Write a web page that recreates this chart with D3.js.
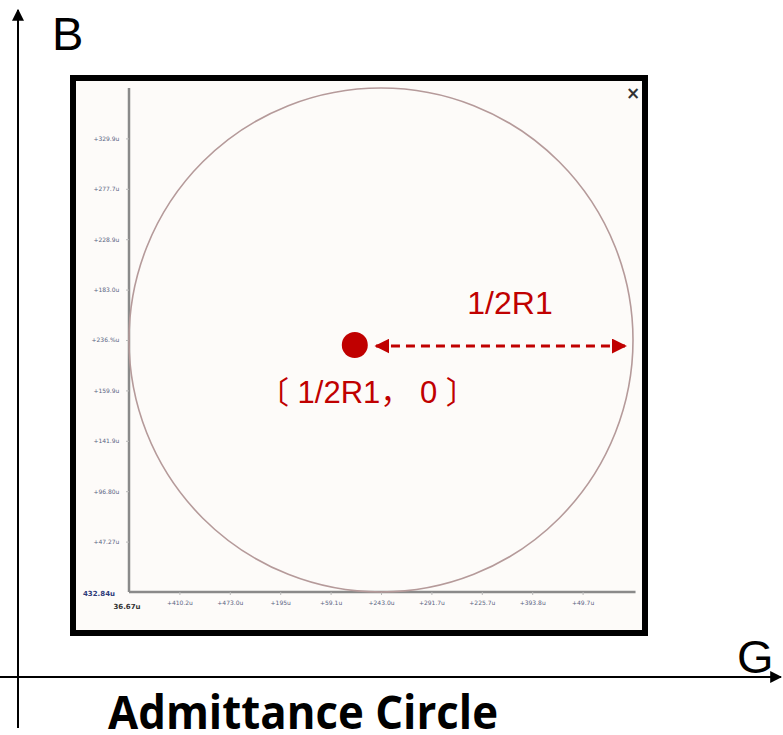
<!DOCTYPE html>
<html>
<head>
<meta charset="utf-8">
<script src="https://cdn.jsdelivr.net/npm/d3@7"></script>
<style>
  body { margin: 0; background: #fff; }
  svg { display: block; }
</style>
</head>
<body>
<svg id="chart" width="783" height="735"></svg>
<script>
// tick positions (in radius units) and their (barely legible) labels
const gTicks = [1, 2, 3, 4, 5, 6, 7, 8, 9];
const gLabels = ['+410.2u', '+473.0u', '+195u', '+59.1u', '+243.0u', '+291.7u', '+225.7u', '+393.8u', '+49.7u'];
const bTicks = [4, 3, 2, 1, 0, -1, -2, -3, -4];
const bLabels = ['+329.9u', '+277.7u', '+228.9u', '+183.0u', '+236.%u', '+159.9u', '+141.9u', '+96.80u', '+47.27u'];
const cornerLabels = ['432.84u', '36.67u'];

// the admittance circle: centre (1/2R1, 0), radius 1/2R1
const circleG = 5;
const circleB = 0;
const circleR = 5;

// annotation
const dotPoint = [4.48, -0.1];
const arrowFrom = [4.9, -0.12];
const arrowTo = [9.85, -0.12];
const radiusLabel = '1/2R1';
const centreLabel = '〔 1/2R1， 0 〕';
const title = 'Admittance Circle';

const red = '#c00000';
const svg = d3.select('#chart');

const defs = svg.append('defs');
defs.append('marker')
    .attr('id', 'arrow-black')
    .attr('viewBox', '0 0 10 10')
    .attr('refX', 9).attr('refY', 5)
    .attr('markerWidth', 6).attr('markerHeight', 6)
    .attr('markerUnits', 'strokeWidth')
    .attr('orient', 'auto')
  .append('path').attr('d', 'M0,0 L10,5 L0,10 z').attr('fill', '#000');
defs.append('marker')
    .attr('id', 'arrow-red')
    .attr('viewBox', '0 0 10 10')
    .attr('refX', 9).attr('refY', 5)
    .attr('markerWidth', 5).attr('markerHeight', 5)
    .attr('markerUnits', 'strokeWidth')
    .attr('orient', 'auto-start-reverse')
  .append('path').attr('d', 'M0,0 L10,5 L0,10 z').attr('fill', red);

// outer B / G axes
svg.append('line')
    .attr('x1', 18).attr('y1', 728).attr('x2', 18).attr('y2', 10)
    .attr('stroke', '#000').attr('stroke-width', 2)
    .attr('marker-end', 'url(#arrow-black)');
svg.append('line')
    .attr('x1', 0).attr('y1', 677).attr('x2', 781).attr('y2', 677)
    .attr('stroke', '#000').attr('stroke-width', 2)
    .attr('marker-end', 'url(#arrow-black)');
svg.append('text')
    .attr('x', 52).attr('y', 50)
    .attr('font-family', 'Liberation Sans, Arial, sans-serif')
    .attr('font-size', 47)
    .text('B');
svg.append('text')
    .attr('x', 737).attr('y', 673)
    .attr('font-family', 'Liberation Sans, Arial, sans-serif')
    .attr('font-size', 47)
    .text('G');

// screenshot frame
svg.append('rect')
    .attr('x', 73).attr('y', 78).attr('width', 572).attr('height', 555)
    .attr('fill', '#fdfbf9')
    .attr('stroke', '#000').attr('stroke-width', 6);
svg.append('text')
    .attr('x', 633).attr('y', 99)
    .attr('text-anchor', 'middle')
    .attr('font-family', 'DejaVu Sans, sans-serif')
    .attr('font-size', 17).attr('font-weight', 'bold')
    .attr('fill', '#333')
    .text('×');

// inner plot scales
const x = d3.scaleLinear().domain([0, 10]).range([129, 633]);
const y = d3.scaleLinear().domain([-5, 5]).range([592, 88]);

const xAxis = d3.axisBottom(x).tickValues(gTicks).tickSize(3)
    .tickFormat((d, i) => gLabels[i]);
const yAxis = d3.axisLeft(y).tickValues(bTicks).tickSize(3)
    .tickFormat((d, i) => bLabels[i]);

const xg = svg.append('g')
    .attr('transform', `translate(0, ${y(-5)})`)
    .call(xAxis);
const yg = svg.append('g')
    .attr('transform', `translate(${x(0)}, 0)`)
    .call(yAxis);

[xg, yg].forEach(g => {
    g.select('.domain').attr('stroke', '#8a8a8a').attr('stroke-width', 2.5);
    g.selectAll('.tick line').attr('stroke', '#bbb');
    g.selectAll('.tick text')
        .attr('fill', '#5a6483')
        .attr('font-size', 6)
        .attr('font-family', 'DejaVu Sans, sans-serif');
});
// stretch the axis lines to the plot edges
xg.select('.domain').attr('d', `M${x(0)},0H${x(10.05)}`);
yg.select('.domain').attr('d', `M0,${y(5)}V${y(-5)}`);
xg.selectAll('.tick text').attr('dy', '1.1em');
yg.selectAll('.tick text').attr('dx', '-0.6em');

svg.append('text')
    .attr('x', 99).attr('y', 596)
    .attr('text-anchor', 'middle')
    .attr('font-family', 'DejaVu Sans, sans-serif')
    .attr('font-size', 7).attr('font-weight', 'bold')
    .attr('fill', '#2e3a7a')
    .text(cornerLabels[0]);
svg.append('text')
    .attr('x', 127).attr('y', 609)
    .attr('text-anchor', 'middle')
    .attr('font-family', 'DejaVu Sans, sans-serif')
    .attr('font-size', 7).attr('font-weight', 'bold')
    .attr('fill', '#333')
    .text(cornerLabels[1]);

// admittance circle
svg.append('ellipse')
    .attr('cx', x(circleG)).attr('cy', y(circleB))
    .attr('rx', x(circleR) - x(0)).attr('ry', y(0) - y(circleR))
    .attr('fill', 'none')
    .attr('stroke', '#b59a9a').attr('stroke-width', 1.6);

// annotation
svg.append('circle')
    .attr('cx', x(dotPoint[0])).attr('cy', y(dotPoint[1]))
    .attr('r', 13)
    .attr('fill', red);
svg.append('line')
    .attr('x1', x(arrowFrom[0])).attr('y1', y(arrowFrom[1]))
    .attr('x2', x(arrowTo[0])).attr('y2', y(arrowTo[1]))
    .attr('stroke', red).attr('stroke-width', 3)
    .attr('stroke-dasharray', '9,6')
    .attr('marker-start', 'url(#arrow-red)')
    .attr('marker-end', 'url(#arrow-red)');
svg.append('text')
    .attr('x', 510).attr('y', 314)
    .attr('text-anchor', 'middle')
    .attr('font-family', 'Liberation Sans, Arial, sans-serif')
    .attr('font-size', 32)
    .attr('fill', red)
    .text(radiusLabel);
svg.append('text')
    .attr('x', 258).attr('y', 403)
    .attr('font-family', 'Liberation Sans, Noto Sans CJK SC, sans-serif')
    .attr('font-size', 31)
    .attr('fill', red)
    .text(centreLabel);

// title
svg.append('text')
    .attr('x', 108).attr('y', 729)
    .attr('font-family', 'Open Sans, Liberation Sans, sans-serif')
    .attr('font-size', 46).attr('font-weight', 'bold')
    .attr('textLength', 390)
    .attr('lengthAdjust', 'spacingAndGlyphs')
    .text(title);
</script>
</body>
</html>
